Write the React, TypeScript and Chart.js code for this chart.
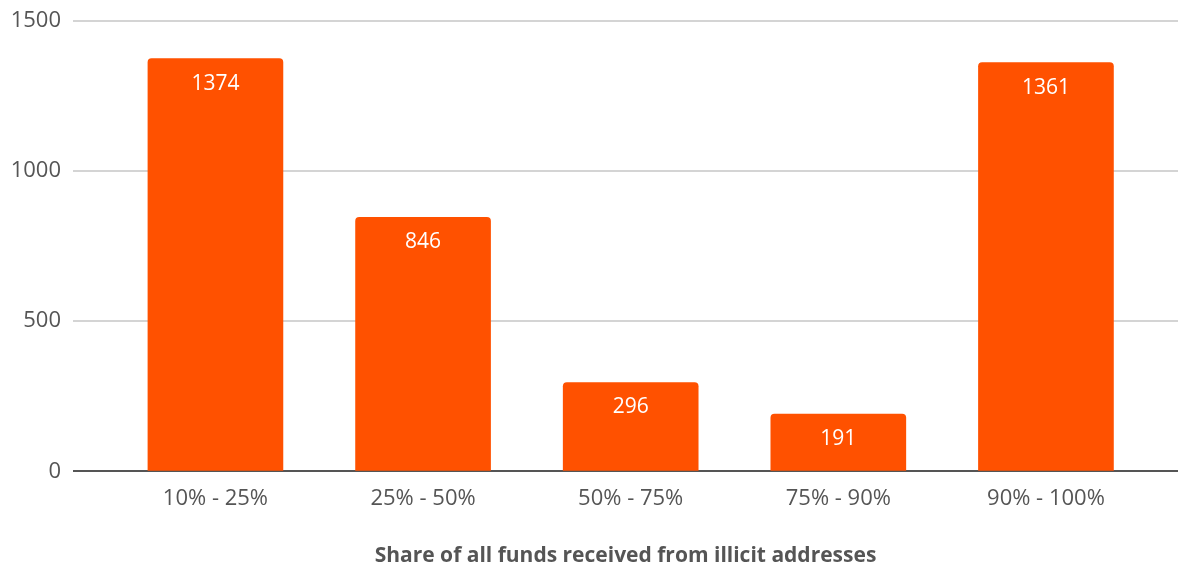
import React, { useEffect, useRef } from "react";
import { Chart, registerables } from "chart.js";

Chart.register(...registerables);

const categories = ["10% - 25%", "25% - 50%", "50% - 75%", "75% - 90%", "90% - 100%"];
const counts = [1374, 846, 296, 191, 1361];
const yTicks = [0, 500, 1000, 1500];
const xTitle = "Share of all funds received from illicit addresses";

const FONT = "'Open Sans', Lato, sans-serif";
const TEXT = "#555555";
const BAR = "#FF5100";

const valueLabels = {
  id: "valueLabels",
  afterDatasetsDraw(chart: any) {
    const { ctx } = chart;
    const meta = chart.getDatasetMeta(0);
    ctx.save();
    ctx.fillStyle = "#ffffff";
    ctx.font = `21px ${FONT}`;
    ctx.textAlign = "center";
    ctx.textBaseline = "middle";
    meta.data.forEach((el: any, i: number) => {
      ctx.fillText(String(counts[i]), el.x, el.y + 25);
    });
    ctx.restore();
  },
};

export default function App() {
  const ref = useRef<HTMLCanvasElement>(null);
  useEffect(() => {
    document.body.style.margin = "0";
    const chart = new Chart(ref.current!, {
      type: "bar",
      data: {
        datasets: [
          {
            data: counts.map((v, i) => ({ x: i, y: v })),
            backgroundColor: BAR,
            barThickness: 135,
            borderRadius: { topLeft: 4, topRight: 4, bottomLeft: 0, bottomRight: 0 },
            borderSkipped: "bottom",
          },
        ],
      },
      options: {
        animation: false,
        responsive: false,
        maintainAspectRatio: false,
        layout: { padding: { top: 0, right: 3, bottom: 0, left: 0 } },
        plugins: { legend: { display: false }, tooltip: { enabled: false } },
        scales: {
          x: {
            type: "linear",
            offset: false,
            min: -0.686,
            max: 4.636,
            grid: { display: false },
            border: { display: false },
            ticks: {
              stepSize: 1,
              includeBounds: false,
              autoSkip: false,
              maxRotation: 0,
              padding: 6,
              color: TEXT,
              font: { size: 22, family: FONT },
              callback: (v: any) => (Number.isInteger(v) && categories[v] ? categories[v] : ""),
            },
            title: {
              display: true,
              text: xTitle,
              color: TEXT,
              font: { size: 21, weight: "bold", family: FONT },
              padding: { top: 26, bottom: 0 },
            },
          },
          y: {
            min: 0,
            max: 1500,
            afterBuildTicks: (s: any) => {
              s.ticks = yTicks.map((v) => ({ value: v }));
            },
            afterFit: (s: any) => {
              s.width = 73;
            },
            grid: {
              drawTicks: false,
              lineWidth: 2,
              color: (c: any) => (c.tick && c.tick.value === 0 ? "#555555" : "#d4d4d4"),
            },
            border: { display: false },
            ticks: {
              padding: 12,
              color: TEXT,
              font: { size: 22, family: FONT, lineHeight: 0.8 },
              callback: (v: any) => String(v),
            },
          },
        },
      },
      plugins: [valueLabels],
    });
    return () => chart.destroy();
  }, []);
  return <canvas ref={ref} width={1181} height={569} style={{ display: "block" }} />;
}
